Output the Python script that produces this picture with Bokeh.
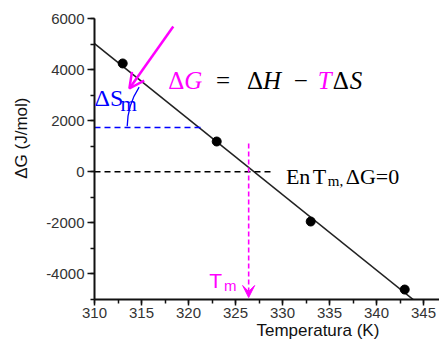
import math
from bokeh.plotting import figure
from bokeh.models import Range1d, SingleIntervalTicker, Label, Arrow, OpenHead, VeeHead, Title
from bokeh.embed import file_html
from bokeh.resources import INLINE

# ---- data ----
temps = [313, 323, 333, 343]
dG = [4240, 1185, -1947, -4610]
fit_T = [310.0, 343.9]
fit_G = [5020, -5000]
zero_line_T = [310.0, 329.0]
zero_line_G = [0, 0]
dS_line_T = [310.0, 321.35]
dS_line_G = [1733, 1733]
Tm = 326.4
x_tick_values = [310, 315, 320, 325, 330, 335, 340, 345]
x_tick_labels = ["310", "315", "320", "325", "330", "335", "340", "345"]
y_tick_values = [-4000, -2000, 0, 2000, 4000, 6000]
y_tick_labels = ["-4000", "-2000", "0", "2000", "4000", "6000"]

MAG = "#ff00ff"
BLUE = "#0000ff"

p = figure(width=439, height=345, x_range=Range1d(310, 346.7), y_range=Range1d(-5000, 6000),
           output_backend="svg", toolbar_location=None,
           min_border_left=93, min_border_right=0, min_border_top=18, min_border_bottom=46)
p.xgrid.visible = False
p.ygrid.visible = False
p.outline_line_color = None
p.background_fill_color = "white"
p.border_fill_color = "white"

for ax, tick in ((p.xaxis, SingleIntervalTicker(interval=5, num_minor_ticks=2)),
                 (p.yaxis, SingleIntervalTicker(interval=2000, num_minor_ticks=2))):
    ax.ticker = tick
    ax.axis_line_width = 2
    ax.axis_line_color = "#111"
    ax.major_tick_line_width = 1.5
    ax.minor_tick_line_width = 1.5
    ax.major_tick_line_color = "#111"
    ax.minor_tick_line_color = "#111"
    ax.major_tick_in = 0
    ax.major_tick_out = 7
    ax.minor_tick_in = 0
    ax.minor_tick_out = 4
    ax.major_label_text_font = "Liberation Sans"
    ax.major_label_text_font_size = "15px"
    ax.major_label_text_color = "#333"
    ax.major_label_standoff = 3
p.xaxis.major_tick_out = 6
p.xaxis.major_label_standoff = 2
p.xaxis.major_label_overrides = dict(zip(x_tick_values, x_tick_labels))
p.yaxis.major_label_overrides = dict(zip(y_tick_values, y_tick_labels))

# axis titles as side titles (so they can sit off-centre like the reference)
p.add_layout(Title(text="ΔG (J/mol)", align="right", offset=79, vertical_align="top",
                   standoff=22, text_font="Liberation Sans", text_font_size="17px",
                   text_font_style="normal", text_color="#111"), "left")
p.add_layout(Title(text="Temperatura (K)", align="left", offset=162, vertical_align="top",
                   standoff=0, text_font="Liberation Sans", text_font_size="17px",
                   text_font_style="normal", text_color="#111"), "below")

# page pixel -> data helpers for annotation placement
def dx(px):
    return 310 + (px - 93) / 9.4286

def dy(py):
    return 6000 - (py - 18) * 39.146

# fit line and points
p.line(fit_T, fit_G, line_color="#222", line_width=1.6)
p.scatter(temps, dG, size=9, color="black")

# dashed helper lines
p.line(zero_line_T, zero_line_G, line_color="black", line_width=1.3, line_dash="6 4")
p.line(dS_line_T, dS_line_G, line_color=BLUE, line_width=1.3, line_dash="6 4")
p.arc(x=[dS_line_T[1]], y=[dS_line_G[1]], radius=74, radius_units="screen",
      start_angle=math.radians(147), end_angle=math.radians(179),
      line_color=BLUE, line_width=1.3)

# Tm arrow
p.add_layout(Arrow(x_start=Tm, y_start=dy(143), x_end=Tm, y_end=dy(297),
                   line_color=MAG, line_width=1.6, line_dash="5 3",
                   end=VeeHead(size=12, fill_color=MAG, line_color=MAG, line_width=1)))
# magenta slope arrow
p.add_layout(Arrow(x_start=dx(172), y_start=dy(26), x_end=dx(128), y_end=dy(88),
                   line_color=MAG, line_width=2.5,
                   end=OpenHead(size=15, line_color=MAG, line_width=2.5)))

def lab(text, px, py, size, color="black", font="Liberation Serif", style="normal",
        align="left", baseline="alphabetic", angle=0):
    p.add_layout(Label(x=dx(px), y=dy(py), text=text, text_font=font, text_font_size=f"{size}px",
                       text_color=color, text_font_style=style, text_align=align,
                       text_baseline=baseline, angle=angle))

# equation  ΔG = ΔH − TΔS
lab("Δ", 183, 80, 25, color=MAG, align="right")
lab("G", 183, 80, 25, color=MAG, style="italic")
lab("=", 222, 80, 25, align="center")
lab("Δ", 262, 80, 25, align="right")
lab("H", 262, 80, 25, style="italic")
lab("−", 300, 80, 25, align="center")
lab("T", 317, 80, 25, color=MAG, style="italic")
lab("Δ", 340, 80, 25, align="center")
lab("S", 349, 80, 25, style="italic")

# ΔS_m
lab("ΔS", 93, 97, 24, color=BLUE)
lab("m", 119, 103, 21, color=BLUE)

# En Tm, ΔG=0
lab("En", 285, 176, 22)
lab("T", 312, 176, 22)
lab("m,", 327, 180, 15)
lab("ΔG=0", 345, 176, 22)

# Tm label
lab("T", 208, 280, 21, color=MAG, font="Liberation Sans")
lab("m", 223, 285, 15, color=MAG, font="Liberation Sans")

open("out.html", "w").write(file_html(p, INLINE))
